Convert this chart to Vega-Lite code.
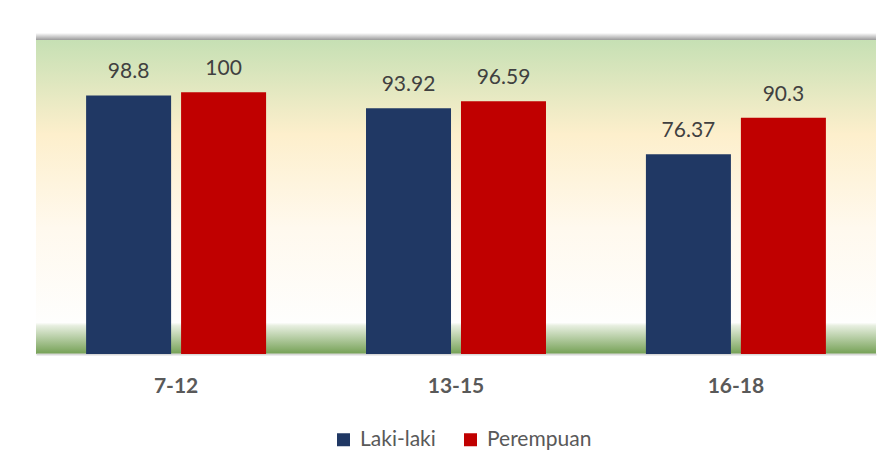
{
  "$schema": "https://vega.github.io/schema/vega-lite/v6.json",
  "width": 840,
  "height": 314,
  "autosize": {"type": "none"},
  "padding": {"left": 36, "top": 40, "right": 20, "bottom": 119},
  "background": "white",
  "view": {
    "stroke": null,
    "fill": {
      "gradient": "linear",
      "x1": 0, "y1": 0, "x2": 0, "y2": 1,
      "stops": [
        {"offset": 0, "color": "#c6e0b4"},
        {"offset": 0.3, "color": "#fdefcc"},
        {"offset": 0.6, "color": "#fff9ee"},
        {"offset": 0.9, "color": "#fefefd"},
        {"offset": 0.91, "color": "#e6eedf"},
        {"offset": 1, "color": "#74a054"}
      ]
    }
  },
  "config": {
    "font": "Lato",
    "axis": {"labelFont": "Lato"},
    "legend": {"labelFont": "Lato"}
  },
  "datasets": {
    "sekolah": [
      {"usia": "7-12", "jk": "Laki-laki", "nilai": 98.8, "label": "98.8"},
      {"usia": "7-12", "jk": "Perempuan", "nilai": 100, "label": "100"},
      {"usia": "13-15", "jk": "Laki-laki", "nilai": 93.92, "label": "93.92"},
      {"usia": "13-15", "jk": "Perempuan", "nilai": 96.59, "label": "96.59"},
      {"usia": "16-18", "jk": "Laki-laki", "nilai": 76.37, "label": "76.37"},
      {"usia": "16-18", "jk": "Perempuan", "nilai": 90.3, "label": "90.3"}
    ],
    "bingkai": [
      {"bawah": 120, "atas": 122.7}
    ]
  },
  "layer": [
    {
      "data": {"name": "bingkai"},
      "mark": {
        "type": "rect",
        "clip": false,
        "fill": {
          "gradient": "linear",
          "x1": 0, "y1": 0, "x2": 0, "y2": 1,
          "stops": [
            {"offset": 0, "color": "#ffffff"},
            {"offset": 1, "color": "#9a9a9a"}
          ]
        }
      },
      "encoding": {
        "y": {"field": "bawah", "type": "quantitative", "scale": {"domain": [0, 120], "nice": false}, "axis": null},
        "y2": {"field": "atas"}
      }
    },
    {
      "data": {"name": "sekolah"},
      "mark": {"type": "bar"},
      "encoding": {
        "x": {
          "field": "usia",
          "type": "nominal",
          "sort": ["7-12", "13-15", "16-18"],
          "scale": {"paddingInner": 0.357, "paddingOuter": 0.179},
          "axis": {
            "title": null,
            "labelAngle": 0,
            "labelFontSize": 21,
            "labelFontWeight": "bold",
            "labelColor": "#595959",
            "labelPadding": 21,
            "ticks": false,
            "domainColor": "#d9d9d9",
            "domainWidth": 2
          }
        },
        "xOffset": {
          "field": "jk",
          "type": "nominal",
          "scale": {"paddingInner": 0.105, "paddingOuter": 0}
        },
        "y": {
          "field": "nilai",
          "type": "quantitative",
          "scale": {"domain": [0, 120], "nice": false},
          "axis": null
        },
        "color": {
          "field": "jk",
          "type": "nominal",
          "scale": {"domain": ["Laki-laki", "Perempuan"], "range": ["#203864", "#c00000"]},
          "legend": {
            "title": null,
            "orient": "none",
            "legendX": 297,
            "legendY": 389,
            "direction": "horizontal",
            "symbolType": "square",
            "symbolSize": 169,
            "symbolStrokeWidth": 0,
            "labelFontSize": 21,
            "labelColor": "#595959",
            "labelOffset": 6,
            "columnPadding": 24
          }
        }
      }
    },
    {
      "data": {"name": "sekolah"},
      "mark": {"type": "text", "baseline": "alphabetic", "dy": -17, "fontSize": 21, "color": "#404040"},
      "encoding": {
        "x": {"field": "usia", "type": "nominal", "sort": ["7-12", "13-15", "16-18"]},
        "xOffset": {"field": "jk", "type": "nominal"},
        "y": {"field": "nilai", "type": "quantitative"},
        "text": {"field": "label"}
      }
    }
  ]
}
